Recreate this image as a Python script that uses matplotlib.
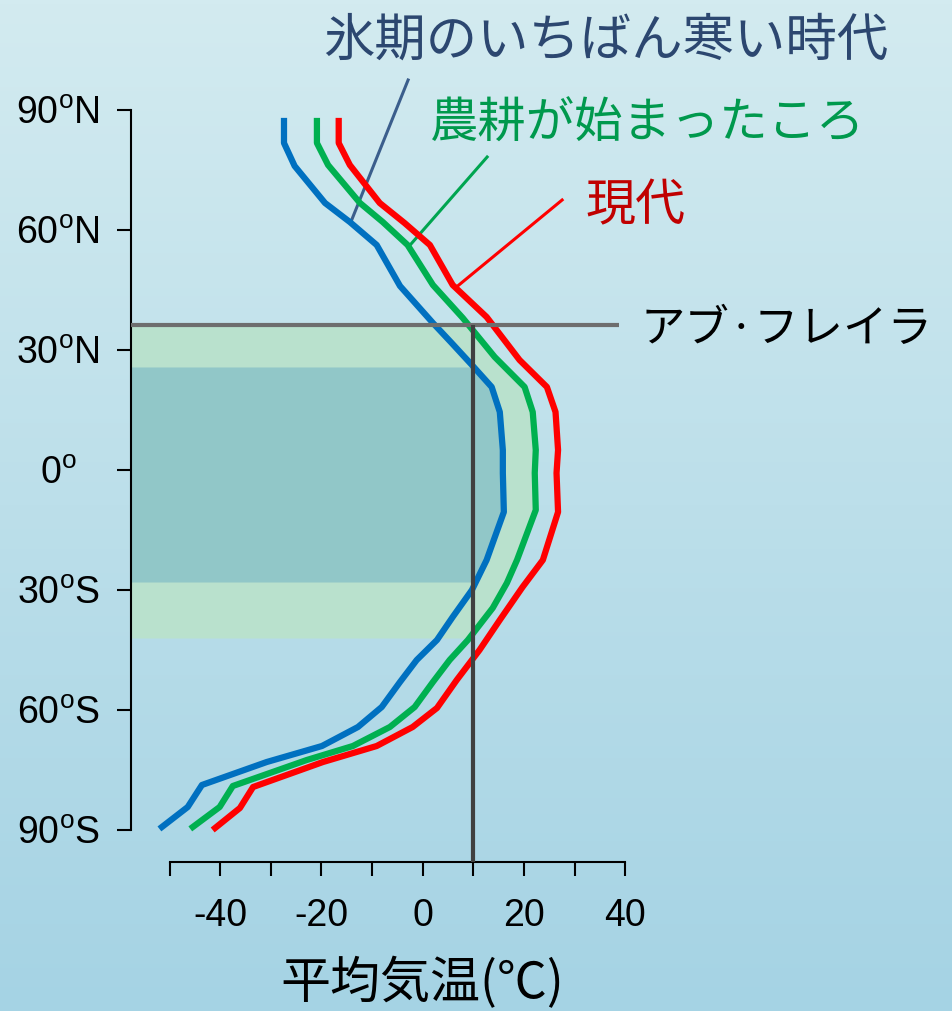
import numpy as np
import matplotlib.pyplot as plt

plt.rcParams['font.family'] = ['Liberation Sans', 'Noto Sans CJK JP', 'DejaVu Sans']
plt.rcParams['mathtext.fontset'] = 'custom'
plt.rcParams['mathtext.rm'] = 'Liberation Sans'

# mean temperature profiles (lat in degrees, + = north)
glacial_lat = [87.25, 81.75, 76, 66.75, 62, 56.25, 46, 36.75, 31.75, 26.25, 20.75, 14.5, 5,
               -0.75, -10.5, -18.25, -22.5, -30, -36.75, -42.5, -47.5, -53, -59.25, -64.25,
               -69, -73, -78.75, -84.25, -89.25]
glacial_t = [-27.4, -27.4, -25.3, -19.3, -14.4, -9.1, -4.5, 2.0, 5.7, 9.7, 13.6, 15.2, 15.8,
             15.8, 16.0, 13.8, 12.6, 9.7, 5.9, 2.8, -1.2, -4.5, -8.1, -12.8,
             -19.9, -30.8, -43.6, -46.4, -51.5]

farming_lat = [87.25, 81.75, 76.25, 66.75, 62, 56.25, 46.25, 38, 28.25, 20.75, 14.5, 5,
               -0.75, -10, -22.5, -28.25, -34.5, -42.5, -47.5, -53, -59.25, -64.25,
               -69, -72.5, -79, -84.25, -89.25]
farming_t = [-20.9, -20.9, -18.7, -12.4, -7.9, -3.0, 2.0, 7.9, 14.2, 20.1, 21.7, 22.3,
             22.1, 22.3, 18.6, 16.6, 13.8, 8.9, 5.3, 2.0, -1.6, -6.5,
             -13.8, -22.9, -37.5, -40.1, -45.4]

modern_lat = [87.25, 81.75, 76.25, 66.75, 61.75, 56.25, 46.25, 38.25, 27.5, 20.75, 14.5, 5,
              -0.75, -10.5, -22.5, -29.25, -37.5, -45, -52.5, -59.5, -64.25,
              -69, -73, -79.25, -84.5, -89.5]
modern_t = [-16.6, -16.6, -14.4, -8.5, -3.6, 1.4, 5.9, 12.6, 19.1, 24.5, 26.2, 26.7,
            26.4, 26.7, 23.7, 19.7, 15.2, 11.2, 6.7, 2.8, -2.0,
            -9.1, -19.7, -33.5, -36.1, -41.0]

abu_hureyra_lat = 36.25
abu_hureyra_t = 10
light_band = (-42, 36.25)
dark_band = (-28, 25.75)

# leader lines: (temp, lat) pairs
glacial_leader = ([-14.2, -2.9], [62, 97.5])
farming_leader = ([-2.5, 12.7], [56.25, 78.25])
modern_leader = ([6.5, 27.5], [45.6, 67.5])

lat_ticks = [90, 60, 30, 0, -30, -60, -90]
lat_labels = ['90$^\\mathregular{o}$N', '60$^\\mathregular{o}$N', '30$^\\mathregular{o}$N',
              '0$^\\mathregular{o}$', '30$^\\mathregular{o}$S', '60$^\\mathregular{o}$S',
              '90$^\\mathregular{o}$S']
t_ticks = list(range(-50, 41, 10))
t_labels = ['' if t % 20 else str(t) for t in t_ticks]

W, H = 953, 1011
fig = plt.figure(figsize=(W / 100, H / 100), dpi=100)

# background gradient
bg = fig.add_axes([0, 0, 1, 1], zorder=-10)
top = np.array([211, 235, 240]) / 255
bot = np.array([165, 211, 228]) / 255
g = np.linspace(0, 1, 256)[:, None]
grad = top[None, :] * (1 - g) + bot[None, :] * g
bg.imshow(grad[:, None, :], aspect='auto', extent=[0, 1, 0, 1])
bg.axis('off')

xmin, xmax = -57.6, 41
ymin, ymax = -97.9, 91
ax = fig.add_axes([131 / W, 1 - 861.6 / H, (630.5 - 131) / W, (861.6 - 106) / H])
ax.set_facecolor('none')
ax.set_xlim(xmin, xmax)
ax.set_ylim(ymin, ymax)

# shaded bands
lat_l = np.linspace(light_band[0], light_band[1], 400)
ax.fill_betweenx(lat_l, xmin, np.interp(lat_l, farming_lat[::-1], farming_t[::-1]),
                 color='#b9e1cd', lw=0, zorder=1)
lat_d = np.linspace(dark_band[0], dark_band[1], 400)
ax.fill_betweenx(lat_d, xmin, np.interp(lat_d, glacial_lat[::-1], glacial_t[::-1]),
                 color='#91c7c8', lw=0, zorder=2)

ax.plot(glacial_t, glacial_lat, color='#0070c0', lw=4.5, zorder=4, clip_on=False)
ax.plot(farming_t, farming_lat, color='#00b050', lw=4.5, zorder=4, clip_on=False)
ax.plot(modern_t, modern_lat, color='#ff0000', lw=4.5, zorder=4, clip_on=False)

ax.plot(*glacial_leader, color='#3b5e8c', lw=2.2, zorder=3, clip_on=False)
ax.plot(*farming_leader, color='#00a550', lw=2.2, zorder=3, clip_on=False)
ax.plot(*modern_leader, color='#ff0000', lw=2.2, zorder=3, clip_on=False)

ax.plot([xmin, 38.7], [abu_hureyra_lat, abu_hureyra_lat], color='#6e6e6e', lw=3, zorder=5,
        solid_capstyle='butt')
ax.plot([abu_hureyra_t, abu_hureyra_t], [abu_hureyra_lat, ymin], color='#404040', lw=3,
        zorder=5, solid_capstyle='butt')

for s in ['top', 'right']:
    ax.spines[s].set_visible(False)
ax.spines['left'].set_bounds(-90, 90)
ax.spines['bottom'].set_bounds(-50, 40)
for s in ['left', 'bottom']:
    ax.spines[s].set_linewidth(1.5)
ax.set_yticks(lat_ticks)
ax.set_yticklabels(lat_labels, ha='center')
ax.set_xticks(t_ticks)
ax.set_xticklabels(t_labels)
ax.tick_params(axis='y', direction='out', length=10, width=1.5, pad=42.5, labelsize=27)
ax.tick_params(axis='x', direction='out', length=10, width=1.5, pad=16, labelsize=27)

jp = ['Noto Sans CJK JP', 'DejaVu Sans']
fig.text(323 / W, 1 - 41 / H, '氷期のいちばん寒い時代', family=jp, fontsize=37,
         color='#2c4770', va='center', ha='left')
fig.text(430 / W, 1 - 124 / H, '農耕が始まったころ', family=jp, fontsize=34.8,
         color='#00994d', va='center', ha='left')
fig.text(585 / W, 1 - 206 / H, '現代', family=jp, fontsize=36,
         color='#c00000', va='center', ha='left')
fig.text(641 / W, 1 - 329 / H, 'アブ·フレイラ', family=jp, fontsize=32,
         color='black', va='center', ha='left')
fig.text(422 / W, 1 - 984 / H, '平均気温(℃)', family=jp, fontsize=36,
         color='black', va='center', ha='center')

fig.savefig('out.png', dpi=100)
